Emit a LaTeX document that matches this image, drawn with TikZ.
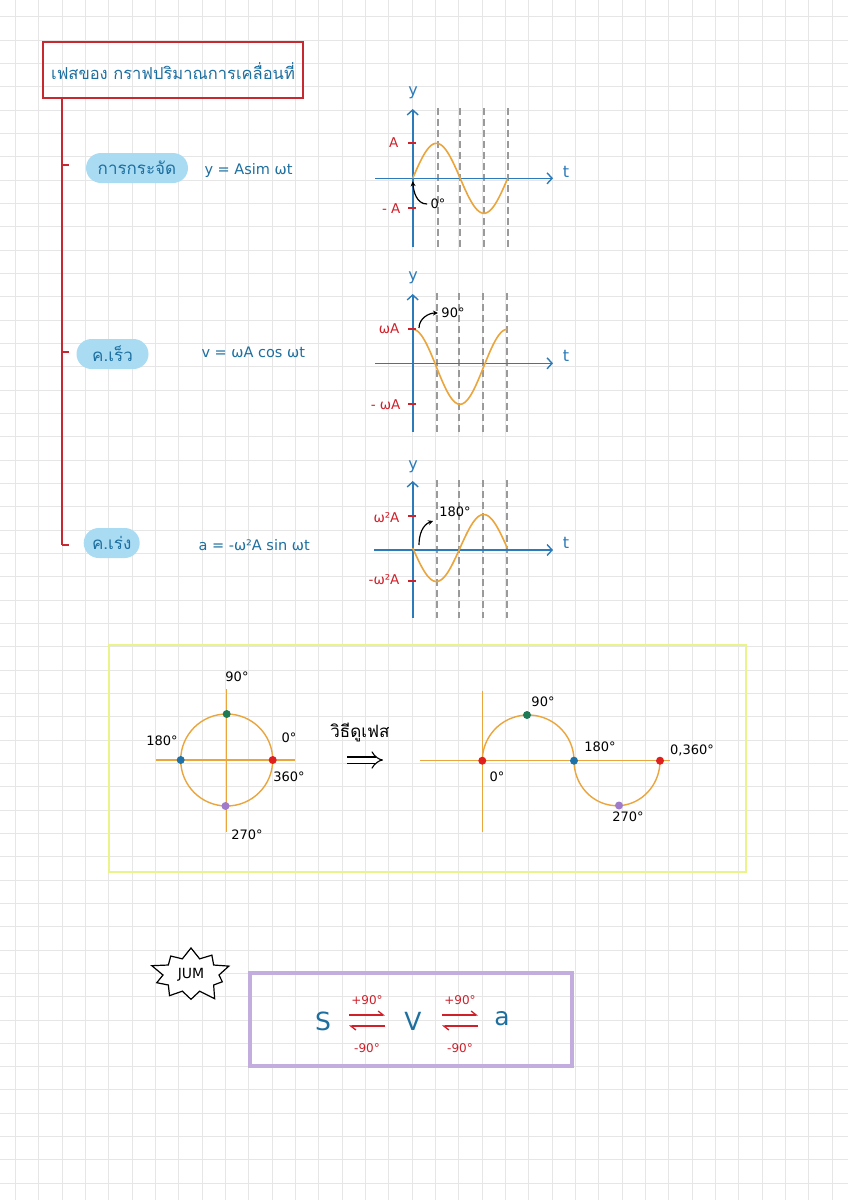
\documentclass[tikz,border=0pt]{standalone}
\usepackage{fontspec}
\setmainfont{DejaVu Sans}
\newfontfamily\thai[Script=Thai]{Loma}
\usetikzlibrary{arrows.meta,shapes.symbols,calc}
\definecolor{tred}{HTML}{C62A30}
\definecolor{tblue}{HTML}{1D6FA0}
\definecolor{axblue}{HTML}{2B7BBA}
\definecolor{lred}{HTML}{D0202A}
\definecolor{pillc}{HTML}{A9DCF3}
\definecolor{curvec}{HTML}{EAA53C}
\definecolor{dashc}{HTML}{9A9A9A}
\definecolor{ybox}{HTML}{EBF48A}
\definecolor{pbox}{HTML}{C3ACDE}
\definecolor{dgreen}{HTML}{1E7A55}
\definecolor{dblue}{HTML}{1F72A8}
\definecolor{dred}{HTML}{E0201C}
\definecolor{dpurple}{HTML}{A07BCC}
\definecolor{gridc}{HTML}{E6E6E6}
\begin{document}
\begin{tikzpicture}[x=1pt,y=-1pt,
  gridline/.style={gridc, line width=0.8pt},
  titlebox/.style={draw=tred, line width=1.8pt, minimum width=260pt, minimum height=56pt, inner xsep=0pt, text height=18pt, text depth=0pt, text=tblue, font=\thai\fontsize{16.5}{16.5}\selectfont},
  trunk/.style={tred, line width=1.6pt},
  pill/.style={fill=pillc, rounded corners=15pt, minimum height=30pt, text=tblue, font=\thai\fontsize{17}{17}\selectfont},
  eqn/.style={text=tblue, font=\fontsize{14.5}{14.5}\selectfont, anchor=west},
  axis/.style={axblue, line width=1.6pt},
  axtip/.style={-{Straight Barb[length=5pt,width=11pt,line width=1.4pt]}},
  axlab/.style={text=axblue, font=\fontsize{16}{16}\selectfont},
  vdash/.style={dashc, line width=1.5pt, dash pattern=on 7pt off 4pt},
  curve/.style={curvec, line width=1.6pt},
  rtick/.style={lred, line width=1.2pt},
  rlab/.style={text=lred, font=\fontsize{13.5}{13.5}\selectfont, anchor=east},
  blab/.style={text=black, font=\fontsize{13}{13}\selectfont},
  barrow/.style={black, line width=1.2pt, -{Stealth[length=5pt,width=5pt]}},
  ocurve/.style={curvec, line width=1.4pt},
  dot/.style={circle, inner sep=0pt, minimum size=8pt},
  harp/.style={lred, line width=1.3pt, -{Straight Barb[left,length=5pt,width=8pt]}},
  degl/.style={text=lred, font=\fontsize{12}{12}\selectfont},
  big/.style={text=tblue, font=\fontsize{25}{25}\selectfont}
]
\fill[white] (0,0) rectangle (848,1200);
\useasboundingbox (0,0) rectangle (848,1200);
% grid
\foreach \i in {0,...,35} {\draw[gridline] ({15.4+23.33*\i},0) -- ({15.4+23.33*\i},1200);}
\foreach \j in {0,...,51} {\draw[gridline] (0,{16.7+23.33*\j}) -- (848,{16.7+23.33*\j});}

% title and tree
\node[titlebox] (title) at (173,70) {เฟสของ กราฟปริมาณการเคลื่อนที่};
\coordinate (tb1) at (62,165);
\coordinate (tb2) at (62,352);
\coordinate (tb3) at (62,545);
\coordinate (ttop) at (tb1 |- title.south);
\draw[trunk] (ttop) -- (tb3);
\node[pill, minimum width=102pt] (disp) at (137,168) {การกระจัด};
\node[pill, minimum width=72pt] (vel) at (112.5,354) {ค.เร็ว};
\node[pill, minimum width=56pt] (acc) at (111.7,543) {ค.เร่ง};
\draw[trunk] (tb1) -- ++(7,0);
\draw[trunk] (tb2) -- ++(7,0);
\draw[trunk] (tb3) -- ++(7,0);
\node[eqn] (eq1) at (201,170) {y = Asim ωt};
\node[eqn] (eq2) at (198,352) {v = ωA cos ωt};
\node[eqn] (eq3) at (195,545) {a = -ω²A sin ωt};

% graph 1
\coordinate (g1o) at (412.7,178.3);
\coordinate (g1l) at (375,178.3);
\coordinate (g1r) at (553,178.3);
\coordinate (g1b) at (412.7,247);
\coordinate (g1t) at (412.7,109);
\foreach \xx in {438,460,484,508} {\draw[vdash] (\xx,108) -- (\xx,250);}
\draw[axis, axtip] (g1l) -- (g1r);
\draw[axis, axtip] (g1b) -- (g1t);
\node[axlab] (g1ylab) at (413,93) {y};
\node[axlab] (g1tlab) at (566,172) {t};
\draw[curve] plot[domain=0:360, samples=72] ({412.7+\x/360*95},{178.3-35*sin(\x)});
\draw[rtick] (408,143) -- (416,143);
\draw[rtick] (408,208) -- (416,208);
\node[rlab] (g1a) at (402,143) {A};
\node[rlab] (g1na) at (404,209) {- A};
\node[blab] (g1zero) at (438,204) {0°};
\draw[barrow] (g1zero.west) to[out=180,in=-85] ($(g1o)+(0,3)$);

% graph 2
\coordinate (g2o) at (412.7,363.3);
\coordinate (g2l) at (375,363.3);
\coordinate (g2r) at (553,363.3);
\coordinate (g2b) at (412.7,432);
\coordinate (g2t) at (412.7,294);
\foreach \xx in {437,459,483,507} {\draw[vdash] (\xx,293) -- (\xx,433);}
\draw[axis, axtip] (g2l) -- (g2r);
\draw[axis, axtip] (g2b) -- (g2t);
\node[axlab] (g2ylab) at (413,278) {y};
\node[axlab] (g2tlab) at (566,356) {t};
\draw[curve] plot[domain=0:360, samples=72] ({412.7+\x/360*94.6},{366.8-37.5*cos(\x)});
\draw[rtick] (408,329) -- (416,329);
\draw[rtick] (408,404) -- (416,404);
\node[rlab] (g2a) at (403,329) {ωA};
\node[rlab] (g2na) at (404,405) {- ωA};
\node[blab] (g2ninety) at (453,313) {90°};
\draw[barrow] (419,328) to[out=90,in=180] (g2ninety.west);

% graph 3
\coordinate (g3o) at (412.7,550);
\coordinate (g3l) at (374,550);
\coordinate (g3r) at (553,550);
\coordinate (g3b) at (412.7,618);
\coordinate (g3t) at (412.7,481);
\foreach \xx in {437,459,483,507} {\draw[vdash] (\xx,480) -- (\xx,618);}
\draw[axis, axtip] (g3l) -- (g3r);
\draw[axis, axtip] (g3b) -- (g3t);
\node[axlab] (g3ylab) at (413,467) {y};
\node[axlab] (g3tlab) at (566,543) {t};
\draw[curve] plot[domain=0:360, samples=72] ({412.7+\x/360*94.6},{548+33.5*sin(\x)});
\draw[rtick] (408,516) -- (416,516);
\draw[rtick] (408,581) -- (416,581);
\node[rlab] (g3a) at (403,518) {ω²A};
\node[rlab] (g3na) at (403,580) {-ω²A};
\node[blab] (g3deg) at (455,512) {180°};
\draw[barrow] (419,545) to[out=90,in=200] (433,521);

% phase circle box
\node[draw=ybox, line width=2.8pt, minimum width=637pt, minimum height=227pt] (cbox) at (427.5,758.5) {};
\coordinate (cc) at (226.7,760);
\coordinate (ch1) at (156,760);
\coordinate (ch2) at (295,760);
\coordinate (cv1) at (226.7,689);
\coordinate (cv2) at (226.7,832);
\draw[ocurve] (ch1) -- (ch2);
\draw[ocurve] (cv1) -- (cv2);
\draw[ocurve] (cc) circle[radius=46pt];
\node[dot, fill=dgreen] (c90) at (226.7,714) {};
\node[dot, fill=dblue] (c180) at (180.7,760) {};
\node[dot, fill=dred] (c0) at (272.7,760) {};
\node[dot, fill=dpurple] (c270) at (225.5,806) {};
\node[blab] (lc90) at (237,677) {90°};
\node[blab] (lc180) at (162,741) {180°};
\node[blab] (lc0) at (289,738) {0°};
\node[blab] (lc360) at (289,777) {360°};
\node[blab] (lc270) at (247,835) {270°};

\node[text=black, font=\thai\fontsize{17}{17}\selectfont] (how) at (360,733) {วิธีดูเฟส};
\coordinate (imp1) at (347,760);
\coordinate (imp2) at (383,760);
\draw[double, double distance=5pt, line width=1.1pt, -{Implies}] (imp1) -- (imp2);

\coordinate (sl) at (420,760.7);
\coordinate (sr) at (670,760.7);
\coordinate (st) at (482.3,690.7);
\coordinate (sb) at (482.3,831.7);
\draw[ocurve] (sl) -- (sr);
\draw[ocurve] (st) -- (sb);
\draw[ocurve] plot[domain=180:0, samples=50] ({528.15+45.85*cos(\x)},{760.7-45.7*sin(\x)});
\draw[ocurve] plot[domain=180:360, samples=50] ({617+43*cos(\x)},{760.7-45*sin(\x)});
\node[dot, fill=dred] (s0) at (482.3,760.7) {};
\node[dot, fill=dgreen] (s90) at (527,715) {};
\node[dot, fill=dblue] (s180) at (574,760.7) {};
\node[dot, fill=dpurple] (s270) at (619,805.5) {};
\node[dot, fill=dred] (s360) at (660,760.7) {};
\node[blab] (ls90) at (543,702) {90°};
\node[blab] (ls180) at (600,747) {180°};
\node[blab] (ls360) at (692,750) {0,360°};
\node[blab] (ls0) at (497,777) {0°};
\node[blab] (ls270) at (628,817) {270°};

% Jum
\node[starburst, draw=black, fill=white, line width=1.2pt, starburst points=10, starburst point height=14pt, minimum width=84pt, minimum height=62pt, font=\fontsize{14}{14}\selectfont] (jum) at (191,975) {JUM};
\node[draw=pbox, line width=3.5pt, minimum width=322pt, minimum height=93pt] (pb) at (411,1019.5) {};
\node[big] (S) at (323,1021) {S};
\node[big] (V) at (413,1021) {V};
\node[big] (a) at (502,1019) {a};
\coordinate (h1a) at (349,1015);
\coordinate (h1b) at (385,1015);
\coordinate (h1c) at (385,1026);
\coordinate (h1d) at (349,1026);
\coordinate (h2a) at (442,1015);
\coordinate (h2b) at (478,1015);
\coordinate (h2c) at (478,1026);
\coordinate (h2d) at (442,1026);
\draw[harp] (h1a) -- (h1b);
\draw[harp] (h1c) -- (h1d);
\draw[harp] (h2a) -- (h2b);
\draw[harp] (h2c) -- (h2d);
\node[degl] (p1) at (367,1000) {+90°};
\node[degl] (m1) at (367,1048) {-90°};
\node[degl] (p2) at (460,1000) {+90°};
\node[degl] (m2) at (460,1048) {-90°};
\end{tikzpicture}
\end{document}
